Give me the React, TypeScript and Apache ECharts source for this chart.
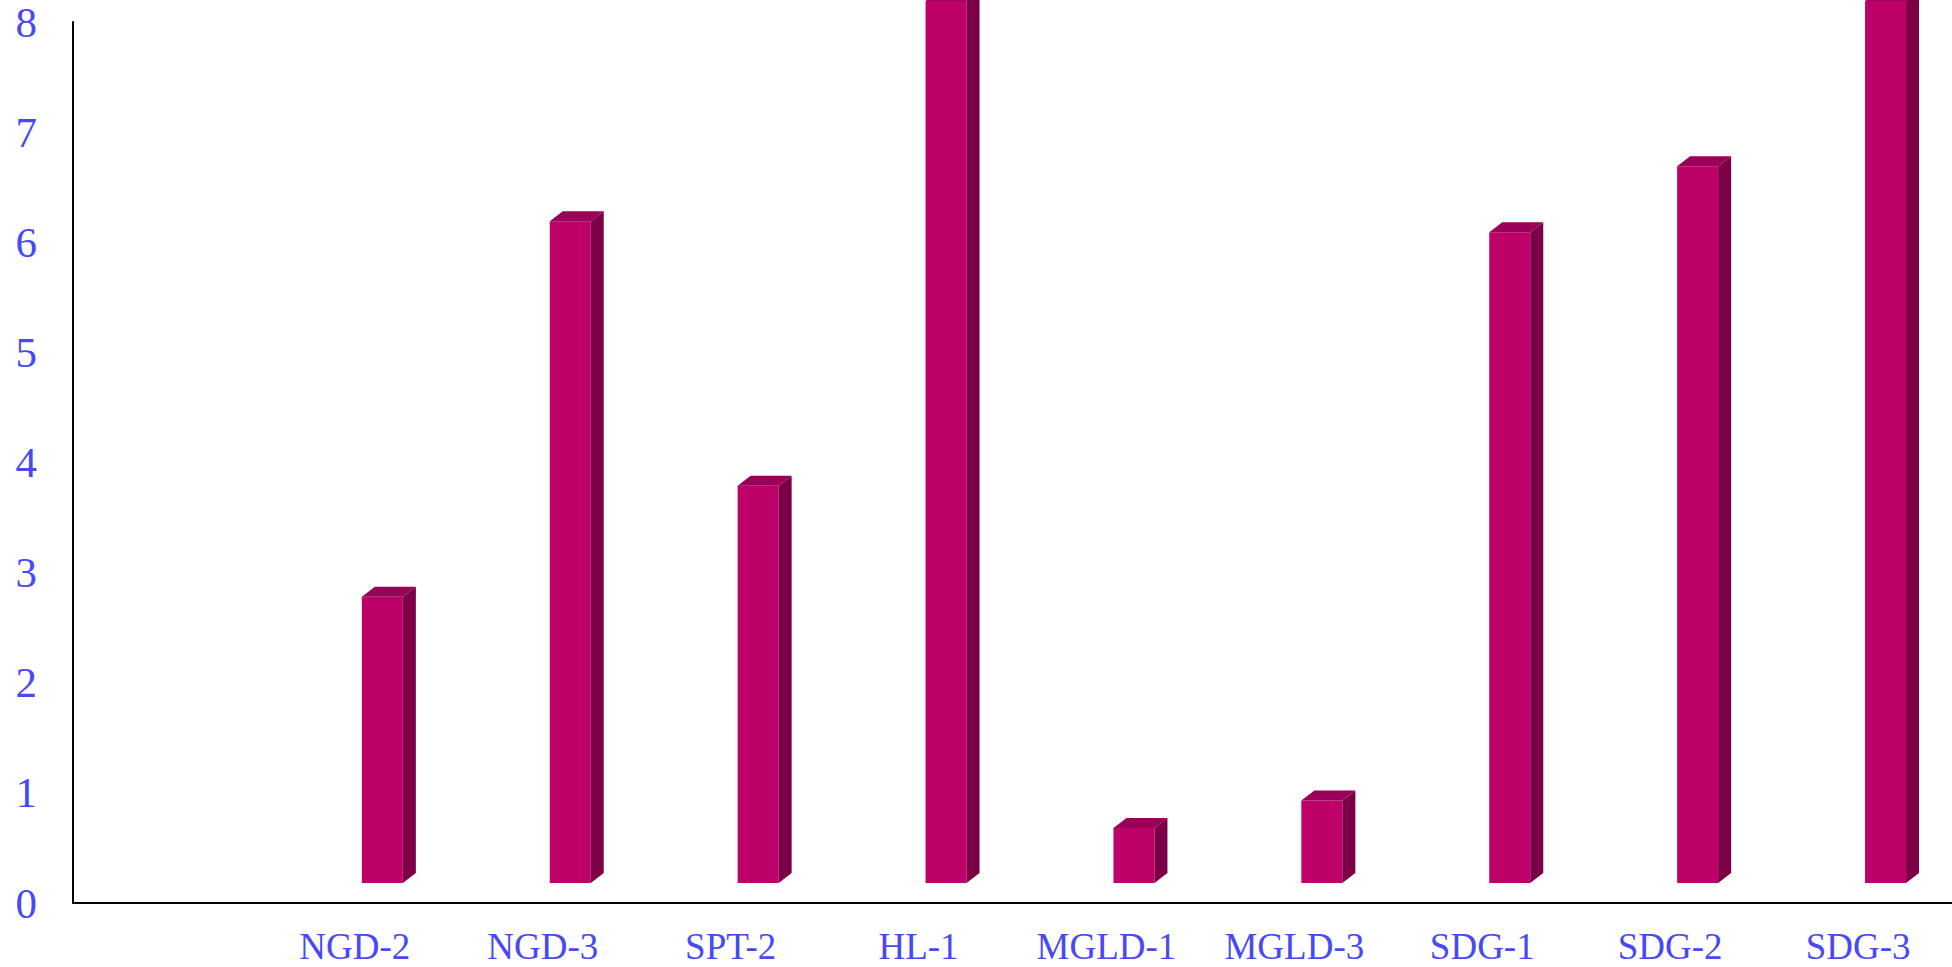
import React, { useEffect, useRef } from "react";
import * as echarts from "echarts";

const categories = ["", "NGD-2", "NGD-3", "SPT-2", "HL-1", "MGLD-1", "MGLD-3", "SDG-1", "SDG-2", "SDG-3"];
const values: (number | null)[] = [null, 2.78, 6.19, 3.79, 8.19, 0.68, 0.93, 6.09, 6.69, 8.19];
const yTicks = { min: 0, max: 8, interval: 1 };

const FRONT = "#BE0069";
const SIDE = "#7C0046";
const TOP = "#9A0057";
const LABEL = "#4848F5";

export default function App() {
  const ref = useRef<HTMLDivElement>(null);
  useEffect(() => {
    if (!ref.current) return;
    const chart = echarts.init(ref.current, undefined, { renderer: "svg" });
    const data = categories.map((c, i) => [i, values[i]]).filter((d) => d[1] !== null);
    chart.setOption({
      animation: false,
      backgroundColor: "#ffffff",
      grid: { left: 73, right: -6, top: 22, bottom: 64, containLabel: false },
      xAxis: {
        type: "category",
        data: categories,
        boundaryGap: true,
        axisLine: { show: true, lineStyle: { color: "#000", width: 2 } },
        axisTick: { show: false },
        axisLabel: {
          color: LABEL,
          fontFamily: "Liberation Serif",
          fontSize: 37,
          margin: 25,
          interval: 0,
        },
        splitLine: { show: false },
      },
      yAxis: {
        type: "value",
        min: yTicks.min,
        max: yTicks.max,
        interval: yTicks.interval,
        axisLine: { show: true, lineStyle: { color: "#000", width: 2 } },
        axisTick: { show: false },
        axisLabel: {
          color: LABEL,
          fontFamily: "Liberation Serif",
          fontSize: 43,
          margin: 36,
        },
        splitLine: { show: false },
      },
      series: [
        {
          type: "custom",
          clip: false,
          data,
          renderItem: (params: any, api: any) => {
            const idx = api.value(0);
            const v = api.value(1);
            const c = api.coord([idx, v]);
            const b = api.coord([idx, 0]);
            const cx = c[0];
            const top = c[1];
            const base = b[1] - 20;
            const x0 = cx + 7;
            const w = 41;
            const dx = 13;
            const dy = 10;
            return {
              type: "group",
              children: [
                {
                  type: "rect",
                  shape: { x: x0, y: top, width: w, height: base - top },
                  style: { fill: FRONT },
                },
                {
                  type: "polygon",
                  shape: {
                    points: [
                      [x0 + w, top],
                      [x0 + w + dx, top - dy],
                      [x0 + w + dx, base - dy],
                      [x0 + w, base],
                    ],
                  },
                  style: { fill: SIDE },
                },
                {
                  type: "polygon",
                  shape: {
                    points: [
                      [x0, top],
                      [x0 + dx, top - dy],
                      [x0 + w + dx, top - dy],
                      [x0 + w, top],
                    ],
                  },
                  style: { fill: TOP },
                },
              ],
            };
          },
        },
      ],
    });
    return () => chart.dispose();
  }, []);
  return (
    <div
      ref={ref}
      style={{ position: "absolute", left: 0, top: 0, width: 1952, height: 967 }}
    />
  );
}
